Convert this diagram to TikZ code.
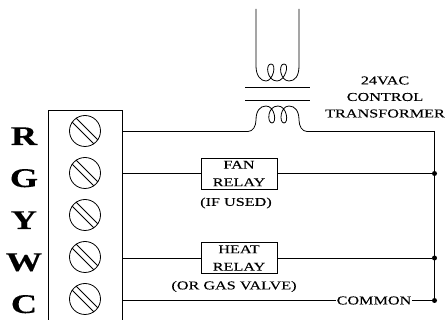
\documentclass[tikz,border=0pt]{standalone}
\usepackage{fontspec}
\setmainfont[FakeStretch=1.35,FakeBold=0.2]{Liberation Serif}
\usetikzlibrary{arrows,shapes}
\begin{document}
\begin{tikzpicture}[x=1pt,y=-1pt,auto,node distance=42pt,line width=0.8pt]
 \tikzstyle{screw}=[draw,circle,minimum size=31pt,inner sep=0pt]
 \tikzstyle{termlabel}=[font=\fontsize{27}{27}\selectfont\bfseries,inner sep=0pt,text height=18pt,text depth=0pt,node distance=61pt,yshift=-5pt]
 \tikzstyle{relaybox}=[draw,minimum width=76pt,minimum height=31pt,inner sep=0pt,align=center,font=\fontsize{12}{17.5}\selectfont]
 \tikzstyle{note}=[font=\fontsize{12}{16.5}\selectfont,inner sep=0pt,align=center]
 \tikzstyle{junction}=[fill,circle,inner sep=0pt,minimum size=5pt]
 \useasboundingbox (0,0) rectangle (448,320);

   \node[screw] (s1) at (85,131) {};
   \node[screw] (s2) [below of = s1] {};
   \node[screw] (s3) [below of = s2] {};
   \node[screw] (s4) [below of = s3] {};
   \node[screw] (s5) [below of = s4] {};

   \node[termlabel] (r) [left of = s1] {R};
   \node[termlabel] (g) [left of = s2] {G};
   \node[termlabel] (y) [left of = s3] {Y};
   \node[termlabel] (w) [left of = s4] {W};
   \node[termlabel] (c) [left of = s5] {C};

   % terminal strip
   \coordinate (stripa) at (48.5,320);
   \coordinate (stripb) at (48.5,110);
   \coordinate (stripc) at (122,110);
   \coordinate (stripd) at (122,320);
   \draw (stripa) -- (stripb) -- (stripc) -- (stripd);

   % screw slots
   \foreach \n in {s1,s2,s3,s4,s5} {
     \draw (\n.center) ++(-13,-9) -- ++(22,22);
     \draw (\n.center) ++(-9,-13) -- ++(22,22);
   }

   \coordinate (rout) at (122,131.5);
   \coordinate (gout) at (122,173.5);
   \coordinate (wout) at (122,258);
   \coordinate (cout) at (122,300.5);

   \node[relaybox] (fan) at (239,173.5) {FAN\\RELAY};
   \node[relaybox] (heat) at (239,258) {HEAT\\RELAY};
   \node[note] (ifused) at (236,203) {(IF USED)};
   \node[note] (gas) at (234,286.5) {(OR GAS VALVE)};
   \node[note] (xfmr) at (385,97) {24VAC\\CONTROL\\TRANSFORMER};
   \node[note,fill=white] (common) at (374,300.5) {COMMON};

   \node[junction] (j1) at (434.5,173.5) {};
   \node[junction] (j2) at (434.5,258) {};
   \node[junction] (j3) at (434.5,300.5) {};
   \coordinate (corner) at (434.5,131.5);

   % transformer core
   \coordinate (corea) at (245,87);
   \coordinate (coreb) at (310,87);
   \coordinate (corec) at (245,100.5);
   \coordinate (cored) at (310,100.5);
   \draw (corea) -- (coreb);
   \draw (corec) -- (cored);

   % primary coil
   \coordinate (pa) at (256,9);
   \coordinate (pb) at (256,66);
   \coordinate (pc) at (299,66);
   \coordinate (pd) at (299,9);
   \draw (pa) -- (pb)
     .. controls (256,76) and (261,81) .. (266,81)
     .. controls (273,81) and (277,64) .. (271,64)
     .. controls (265,64) and (267,81) .. (277,81)
     .. controls (285,81) and (290,64) .. (284,64)
     .. controls (278,64) and (280,81) .. (289,81)
     .. controls (295,81) and (299,76) .. (pc) -- (pd);

   % secondary coil
   \coordinate (sa) at (248,131.5);
   \coordinate (sb) at (307,131.5);
   \draw (sa) .. controls (253,131.5) and (256,126) .. (256,120)
     .. controls (256,111) and (260,106) .. (266,106)
     .. controls (275,106) and (277,123) .. (272,123)
     .. controls (267,123) and (267,106) .. (278,106)
     .. controls (287,106) and (289,123) .. (284,123)
     .. controls (279,123) and (280,106) .. (289,106)
     .. controls (295,106) and (299,111) .. (299,120)
     .. controls (299,126) and (302,131.5) .. (sb);

   \draw (rout) -- (sa);
   \draw (sb) -- (corner) -- (j3);
   \draw (gout) -- (fan);
   \draw (fan) -- (j1);
   \draw (wout) -- (heat);
   \draw (heat) -- (j2);
   \draw (cout) -- (common) -- (j3);
\end{tikzpicture}
\end{document}
